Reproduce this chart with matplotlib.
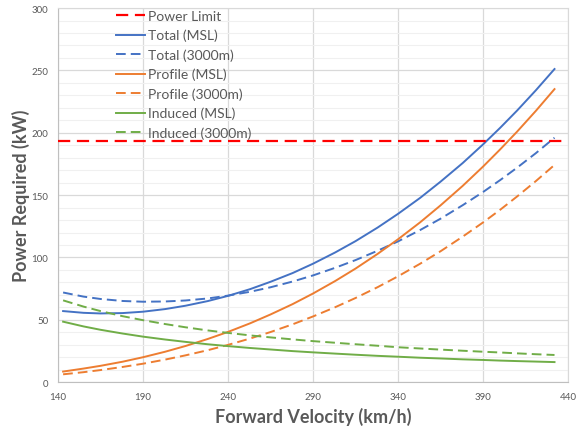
import matplotlib
matplotlib.use("Agg")
import matplotlib.pyplot as plt
from matplotlib.ticker import MultipleLocator, FixedLocator

plt.rcParams['font.family'] = ['Lato', 'DejaVu Sans']

velocity = [143, 155, 165, 178, 190, 203, 215, 228, 240, 253, 265, 278, 290,
            303, 315, 328, 340, 353, 365, 378, 390, 400, 410, 421, 432]
total_msl = [57.0, 55.6, 55.1, 55.4, 56.5, 58.6, 61.3, 65.0, 69.2, 74.6, 80.5, 87.5, 95.0,
             104.0, 113.1, 124.0, 135.0, 147.8, 160.8, 175.7, 190.7, 203.9, 217.8, 234.0, 251.1]
total_3000 = [71.9, 68.6, 66.7, 65.1, 64.5, 64.7, 65.5, 67.1, 69.4, 72.5, 76.1, 80.7, 85.6,
              91.7, 97.9, 105.4, 112.9, 122.0, 131.1, 141.9, 152.5, 162.0, 172.0, 183.6, 196.0]
profile_msl = [8.5, 10.9, 13.1, 16.4, 20.0, 24.4, 29.0, 34.6, 40.3, 47.2, 54.3, 62.6, 71.1,
               81.1, 91.1, 102.9, 114.6, 128.2, 141.8, 157.4, 172.9, 186.6, 200.9, 217.5, 235.0]
profile_3000 = [6.3, 8.0, 9.7, 12.2, 14.8, 18.1, 21.5, 25.6, 29.9, 35.0, 40.2, 46.4, 52.7,
                60.1, 67.5, 76.2, 84.9, 95.0, 105.0, 116.7, 128.1, 138.2, 148.9, 161.2, 174.2]
induced_msl = [48.5, 44.7, 42.0, 39.0, 36.5, 34.2, 32.3, 30.4, 28.9, 27.4, 26.2, 24.9, 23.9,
               22.9, 22.0, 21.1, 20.4, 19.6, 19.0, 18.3, 17.8, 17.3, 16.9, 16.5, 16.1]
induced_3000 = [65.6, 60.6, 57.0, 52.9, 49.7, 46.6, 44.0, 41.5, 39.5, 37.5, 35.9, 34.3, 32.9,
                31.6, 30.4, 29.2, 28.0, 27.0, 26.1, 25.2, 24.4, 23.8, 23.1, 22.4, 21.8]
power_limit = 193
x_ticks = [140, 190, 240, 290, 340, 390, 440]

blue = "#4472C4"
orange = "#ED7D31"
green = "#70AD47"
red = "#FF0000"
gray = "#595959"

fig = plt.figure(figsize=(5.76, 4.31), dpi=100)
ax = fig.add_axes([0.1007, 0.111, 0.8856, 0.868])

dash = (0, (5, 2.6))
ax.axhline(power_limit, color=red, lw=1.6, ls=(0, (5.5, 3)), label="Power Limit", zorder=3)
ax.plot(velocity, total_msl, color=blue, lw=1.4, label="Total (MSL)")
ax.plot(velocity, total_3000, color=blue, lw=1.4, ls=dash, label="Total (3000m)")
ax.plot(velocity, profile_msl, color=orange, lw=1.4, label="Profile (MSL)")
ax.plot(velocity, profile_3000, color=orange, lw=1.4, ls=dash, label="Profile (3000m)")
ax.plot(velocity, induced_msl, color=green, lw=1.4, label="Induced (MSL)")
ax.plot(velocity, induced_3000, color=green, lw=1.4, ls=dash, label="Induced (3000m)")

ax.set_xlim(140, 440)
ax.set_ylim(0, 300)
ax.xaxis.set_major_locator(FixedLocator(x_ticks))
ax.yaxis.set_major_locator(MultipleLocator(50))
ax.yaxis.set_minor_locator(MultipleLocator(10))
ax.grid(which="major", color="#D9D9D9", lw=0.9, zorder=0)
ax.grid(which="minor", axis="y", color="#F0F0F0", lw=0.8, zorder=0)
ax.set_axisbelow(True)
ax.tick_params(which="both", length=0, labelsize=7, labelcolor=gray, pad=7)
for s in ax.spines.values():
    s.set_color("#D9D9D9")
ax.spines["left"].set_color("#BFBFBF")
ax.spines["bottom"].set_color("#BFBFBF")

ax.set_xlabel("Forward Velocity (km/h)", fontsize=13, fontweight="bold", color=gray, labelpad=4)
ax.set_ylabel("Power Required (kW)", fontsize=13, fontweight="bold", color=gray, labelpad=1)

leg = ax.legend(loc="upper left", bbox_to_anchor=(0.113, 0.995), frameon=False,
                fontsize=10, handlelength=2.1, handletextpad=0.2, labelspacing=0.5,
                borderaxespad=0, borderpad=0)
for t in leg.get_texts():
    t.set_color(gray)

fig.savefig("out.png", dpi=100)
